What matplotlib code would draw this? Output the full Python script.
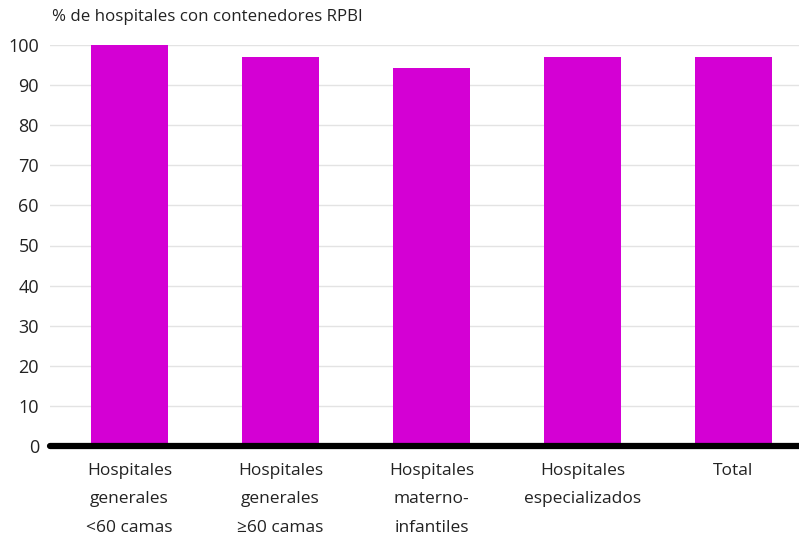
import matplotlib
matplotlib.use("Agg")
import matplotlib.pyplot as plt

categories = [
    "Hospitales\ngenerales\n<60 camas",
    "Hospitales\ngenerales\n≥60 camas",
    "Hospitales\nmaterno-\ninfantiles",
    "Hospitales\nespecializados",
    "Total",
]
values = [100.0, 97.0, 94.3, 97.0, 97.0]
yticks = [0, 10, 20, 30, 40, 50, 60, 70, 80, 90, 100]
title = "% de hospitales con contenedores RPBI"

plt.rcParams["font.family"] = ["Open Sans", "DejaVu Sans"]

W, H = 799, 543
fig = plt.figure(figsize=(W / 100, H / 100), dpi=100)
ax = fig.add_axes([50 / W, 97 / H, (W - 50) / W, (446 - 45) / H])

x = list(range(len(categories)))
ax.bar(x, values, width=0.51, color="#D400D4", zorder=2)

ax.set_ylim(0, 100)
ax.set_xlim(-0.527, 4.434)
ax.set_yticks(yticks)
ax.set_yticklabels([str(t) for t in yticks], fontsize=13, color="#222222")
ax.yaxis.grid(True, color="#e3e3e3", lw=1.0, zorder=0)
ax.set_axisbelow(True)
ax.tick_params(axis="y", length=0, pad=8)
ax.tick_params(axis="x", length=0, pad=12)
ax.set_xticks(x)
ax.set_xticklabels(categories, fontsize=12.5, color="#222222", linespacing=2.05,
                   va="top")

for s in ["top", "right", "left"]:
    ax.spines[s].set_visible(False)
ax.spines["bottom"].set_color("black")
ax.spines["bottom"].set_linewidth(4.5)
ax.spines["bottom"].set_capstyle("round")
ax.spines["bottom"].set_zorder(3)

fig.text(52 / W, 1 - 17 / H, title, fontsize=12.2, color="#222222",
         va="center", ha="left")

fig.savefig("out.png", dpi=100)
